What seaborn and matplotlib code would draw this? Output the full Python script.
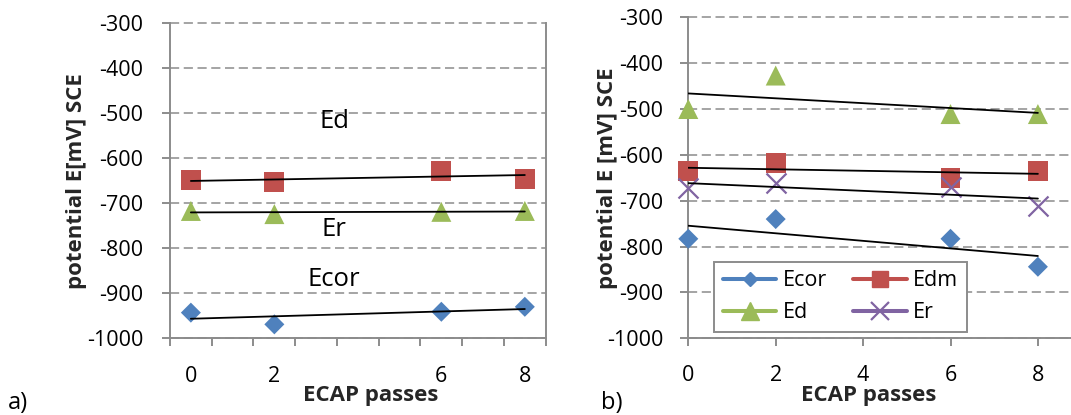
import numpy as np
import pandas as pd
import matplotlib
matplotlib.use("Agg")
import matplotlib.pyplot as plt
from matplotlib.lines import Line2D
from matplotlib.ticker import FixedLocator
import seaborn as sns

# Number of ECAP passes
passes = [0, 2, 6, 8]

# Panel a) potentials, mV vs SCE
a_ecor = [-943, -969, -941, -930]
a_ed = [-649, -653, -628, -645]
a_er = [-717, -724, -719, -717]

# Panel b) potentials, mV vs SCE
b_ecor = [-783, -740, -783, -844]
b_edm = [-635, -618, -651, -635]
b_ed = [-500, -427, -511, -511]
b_er = [-673, -661, -669, -711]

a_texts = ["Ed", "Er", "Ecor"]
a_text_y = [-519, -759, -870]
y_ticks = list(range(-1000, -299, 100))
b_x_ticks = [0, 2, 4, 6, 8]
legend_names = ["Ecor", "Edm", "Ed", "Er"]

BLUE, RED, GREEN, PURPLE = "#4F81BD", "#C0504D", "#9BBB59", "#8064A2"
GRAY = "#8C8C8C"

sns.set_theme(style="white")
plt.rcParams["font.family"] = ["Open Sans", "DejaVu Sans"]
plt.rcParams["text.color"] = "black"
plt.rcParams["axes.unicode_minus"] = False

FS = 15.5      # tick labels and legend
FS_LAB = 16    # axis titles
FS_ANN = 18.5  # in-plot labels of panel a)

W, H = 1071, 415
fig = plt.figure(figsize=(W / 100, H / 100), dpi=100)

def px_axes(left, top, right, bottom):
    return fig.add_axes([left / W, 1 - bottom / H, (right - left) / W, (bottom - top) / H])

ax_a = px_axes(170, 23.3, 545.7, 338.3)
ax_b = px_axes(688.3, 17.3, 1071, 338.3)


def series(ax, y, color, marker, s):
    df = pd.DataFrame({"passes": passes, "E": y})
    if marker == "x":
        sns.scatterplot(data=df, x="passes", y="E", marker="x", color=color, s=s,
                        linewidth=1.6, ax=ax, zorder=3, clip_on=False)
    else:
        sns.scatterplot(data=df, x="passes", y="E", marker=marker, color=color, s=s,
                        edgecolor="none", linewidth=0, ax=ax, zorder=3, clip_on=False)
    sns.regplot(data=df, x="passes", y="E", scatter=False, ci=None, truncate=True,
                color="black", line_kws={"lw": 1.3, "zorder": 4}, ax=ax)


def style_axes(ax, right_spine):
    ax.set_ylim(-1000, -300)
    ax.set_yticks(y_ticks)
    ax.yaxis.grid(True, color=GRAY, linestyle=(0, (6, 3)), linewidth=1.1)
    ax.xaxis.grid(False)
    for gl in ax.get_ygridlines():
        gl.set_clip_on(False)
    for name, sp in ax.spines.items():
        sp.set_color(GRAY)
        sp.set_linewidth(1.4)
    ax.spines["top"].set_visible(False)
    ax.spines["right"].set_visible(right_spine)
    ax.tick_params(axis="y", which="major", left=True, length=6, width=1.4,
                   color=GRAY, labelcolor="black", labelsize=FS, direction="out")
    ax.set_facecolor("white")


# Panel a)
series(ax_a, a_ecor, BLUE, "D", 104)
series(ax_a, a_ed, RED, "s", 207)
series(ax_a, a_er, GREEN, "^", 207)
style_axes(ax_a, True)
ax_a.set_xlim(-0.5, 8.5)
ax_a.set_xticks(passes)
ax_a.set_xticklabels([str(p) for p in passes])
ax_a.xaxis.set_minor_locator(FixedLocator(np.arange(-0.5, 8.6, 1.0)))
ax_a.tick_params(axis="x", which="major", bottom=True, length=0, pad=20,
                 labelcolor="black", labelsize=FS)
ax_a.tick_params(axis="x", which="minor", bottom=True, length=5.5, width=1.4,
                 color=GRAY, direction="out")
ax_a.tick_params(axis="y", pad=13)
for txt, yv in zip(a_texts, a_text_y):
    ax_a.text(3.43, yv, txt, ha="center", va="center", fontsize=FS_ANN)
ax_a.set_xlabel("ECAP passes", fontsize=FS_LAB, fontweight="bold")
ax_a.set_ylabel("potential E[mV] SCE", fontsize=FS_LAB, fontweight="bold")
ax_a.xaxis.set_label_coords(0.533, -0.149)
ax_a.yaxis.set_label_coords(-0.221, 0.5)

# Panel b)
series(ax_b, b_ecor, BLUE, "D", 104)
series(ax_b, b_edm, RED, "s", 207)
series(ax_b, b_ed, GREEN, "^", 207)
series(ax_b, b_er, PURPLE, "x", 207)
style_axes(ax_b, False)
ax_b.set_xlim(0, (1071 - 688.3) / 43.7)
ax_b.set_xticks(b_x_ticks)
ax_b.set_xticklabels([str(p) for p in b_x_ticks])
ax_b.tick_params(axis="x", which="major", bottom=True, length=5.5, width=1.4,
                 color=GRAY, pad=14, labelcolor="black", labelsize=FS, direction="out")
ax_b.tick_params(axis="y", pad=12)
ax_b.set_xlabel("ECAP passes", fontsize=FS_LAB, fontweight="bold")
ax_b.set_ylabel("potential E [mV] SCE", fontsize=FS_LAB, fontweight="bold")
ax_b.xaxis.set_label_coords(0.472, -0.146)
ax_b.yaxis.set_label_coords(-0.185, 0.5)

handle_style = {
    "Ecor": dict(color=BLUE, marker="D", markersize=7.6),
    "Edm": dict(color=RED, marker="s", markersize=12),
    "Ed": dict(color=GREEN, marker="^", markersize=13),
    "Er": dict(color=PURPLE, marker="x", markersize=13, markeredgewidth=1.6),
}
order = ["Ecor", "Ed", "Edm", "Er"]
handles = [Line2D([], [], lw=2.9, solid_capstyle="round", **handle_style[n]) for n in order]
leg = ax_b.legend(handles, order, ncol=2, loc="upper left",
                  bbox_to_anchor=(714 / W, 1 - 261.7 / H), bbox_transform=fig.transFigure,
                  borderaxespad=0, fontsize=FS, frameon=True, fancybox=False,
                  edgecolor=GRAY, framealpha=1, handlelength=2.5, handletextpad=0.28,
                  columnspacing=1.24, labelspacing=0.5, borderpad=0.4)
leg.get_frame().set_linewidth(1.4)

fig.text(8 / W, 1 - 409 / H, "a)", fontsize=17, va="baseline", ha="left")
fig.text(601 / W, 1 - 409 / H, "b)", fontsize=17, va="baseline", ha="left")

fig.savefig("out.png", dpi=100, facecolor="white")
